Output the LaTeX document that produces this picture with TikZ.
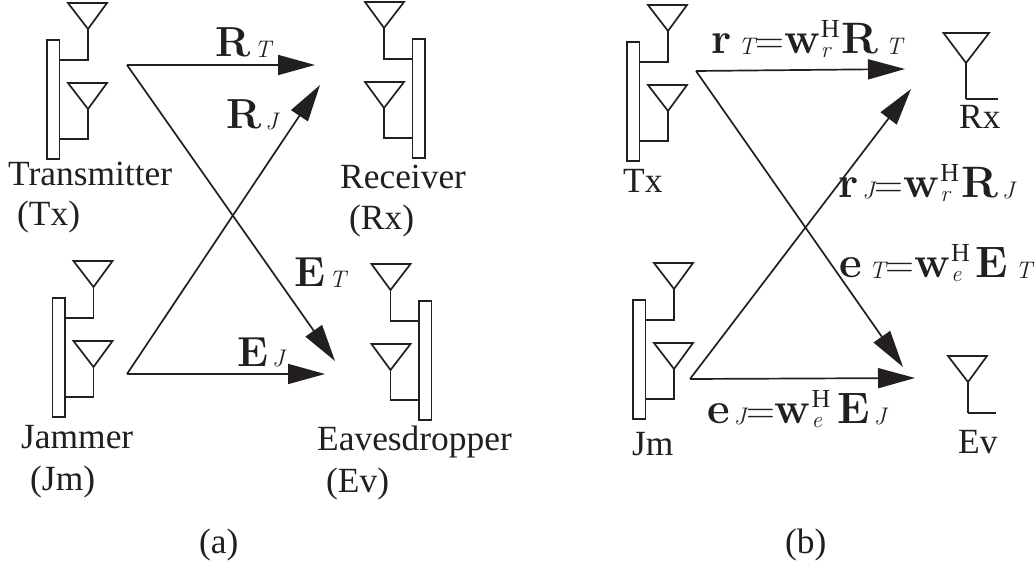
\documentclass[tikz,border=0pt]{standalone}
\usepackage{fontspec}
\usetikzlibrary{arrows.meta}
\newfontfamily\tnr{Liberation Serif}
\definecolor{ink}{HTML}{231F20}
\newcommand{\bga}[1]{{\fontsize{42}{46}\selectfont\bfseries #1}}
\newcommand{\bg}[1]{{\fontsize{44}{48}\selectfont\bfseries #1}}
\newcommand{\sbs}[1]{\hspace{4pt}\raisebox{-1pt}{\fontsize{24}{26}\selectfont\itshape #1}}
\newcommand{\sbsw}[1]{\hspace{7pt}\raisebox{-1pt}{\fontsize{24}{26}\selectfont\itshape #1}}
\newcommand{\eqs}{{\fontsize{40}{44}\selectfont =}}
\newcommand{\wrs}[1]{\bg{w}\hspace{1pt}\rlap{\raisebox{-4pt}{\fontsize{23}{26}\selectfont\itshape #1}}\raisebox{16pt}{\tnr\fontsize{26}{26}\selectfont H}\hspace{2pt}}
\tikzset{
  wire/.style={draw=ink,line width=1.7pt},
  barbox/.style={draw=ink,line width=1.7pt,fill=white},
  link/.style={draw=ink,line width=1.7pt,-{Triangle[length=37pt,width=20pt]}},
  caption/.style={anchor=base west,inner sep=0pt,text=ink,font=\tnr\fontsize{35.4}{40}\selectfont},
  formula/.style={anchor=base west,inner sep=0pt,text=ink},
  pics/ant/.style={code={
    \draw[wire] (-20,0) -- (19,0) -- (0,26) -- cycle;
    \draw[wire] (0,26) -- (0,#1);
  }},
  pics/antbig/.style={code={
    \draw[wire] (-22.5,0) -- (23,0) -- (0,30) -- cycle;
    \draw[wire] (0,30) -- (0,#1);
  }},
  pics/array/.style={code={
    \begin{scope}[xscale=#1]
      \draw[barbox] (0,0) rectangle (12.5,119);
      \draw[wire] (21,-37) -- (60,-37) -- (41,-11) -- cycle;
      \draw[wire] (41,-11) -- (41,20) -- (12.5,20);
      \draw[wire] (21,43) -- (60,43) -- (41,69) -- cycle;
      \draw[wire] (41,69) -- (41,99) -- (12.5,99);
    \end{scope}
  }},
}
\begin{document}
\begin{tikzpicture}[x=1pt,y=-1pt]
\useasboundingbox (0,0) rectangle (1036,569);

% ---------- panel (a) ----------
\pic at (47,40) {array=1};
\pic at (425,39) {array=-1};
\pic at (52.5,298) {array=1};
\pic at (431.5,301) {array=-1};

\coordinate (atx) at (127,65);
\coordinate (ajm) at (127,374);
\coordinate (arxa) at (315,65);
\coordinate (arxb) at (320,85);
\coordinate (aeva) at (335,361);
\coordinate (aevb) at (325,374);
\draw[link] (atx) -- (arxa);
\draw[link] (ajm) -- (arxb);
\draw[link] (atx) -- (aeva);
\draw[link] (ajm) -- (aevb);

\node[caption] (t1) at (8,186) {Transmitter};
\node[caption] (t2) at (17,226) {(Tx)};
\node[caption] (t3) at (340,189) {Receiver};
\node[caption] (t4) at (349,230) {(Rx)};
\node[caption] (t5) at (21,448) {Jammer};
\node[caption] (t6) at (30,490) {(Jm)};
\node[caption] (t7) at (317,450) {Eavesdropper};
\node[caption] (t8) at (326,492) {(Ev)};
\node[caption] (t9) at (199,553) {(a)};

\node[formula] (l1) at (215,57) {\bga{R}\sbs{T}};
\node[formula] (l2) at (226,129) {\bga{R}\sbs{J}};
\node[formula] (l3) at (294,287) {\bga{E}\sbs{T}};
\node[formula] (l4) at (237,366) {\bga{E}\sbs{J}};

% ---------- panel (b) ----------
\pic at (627,42) {array=1};
\pic at (633,300) {array=1};

\pic at (966,33) {antbig=66};
\draw[wire] (966,99) -- (998,99);
\pic at (968,356) {ant=57};
\draw[wire] (968,413) -- (996,413);

\coordinate (btx) at (696,71);
\coordinate (bjm) at (690,379);
\coordinate (brxa) at (905,69);
\coordinate (brxb) at (911,89);
\coordinate (beva) at (903,367);
\coordinate (bevb) at (915,378);
\draw[link] (btx) -- (brxa);
\draw[link] (bjm) -- (brxb);
\draw[link] (btx) -- (beva);
\draw[link] (bjm) -- (bevb);

\node[caption] (c1) at (623,193) {Tx};
\node[caption] (c2) at (959,129) {Rx};
\node[caption] (c3) at (632,455) {Jm};
\node[caption] (c4) at (958,453) {Ev};
\node[caption] (c5) at (785,553) {(b)};

\node[formula] (f1) at (711,54) {\bg{r}\sbsw{T}\eqs\wrs{r}\bg{R}\sbsw{T}};
\node[formula] (f2) at (838,198) {\bg{r}\sbs{J}\eqs\wrs{r}\bg{R}\sbs{J}};
\node[formula] (f3) at (839,278) {\bg{e}\sbsw{T}\eqs\wrs{e}\hspace{4pt}\bg{E}\sbsw{T}};
\node[formula] (f4) at (707,423) {\bg{e}\sbs{J}\eqs\wrs{e}\hspace{5pt}\bg{E}\sbs{J}};
\end{tikzpicture}
\end{document}
